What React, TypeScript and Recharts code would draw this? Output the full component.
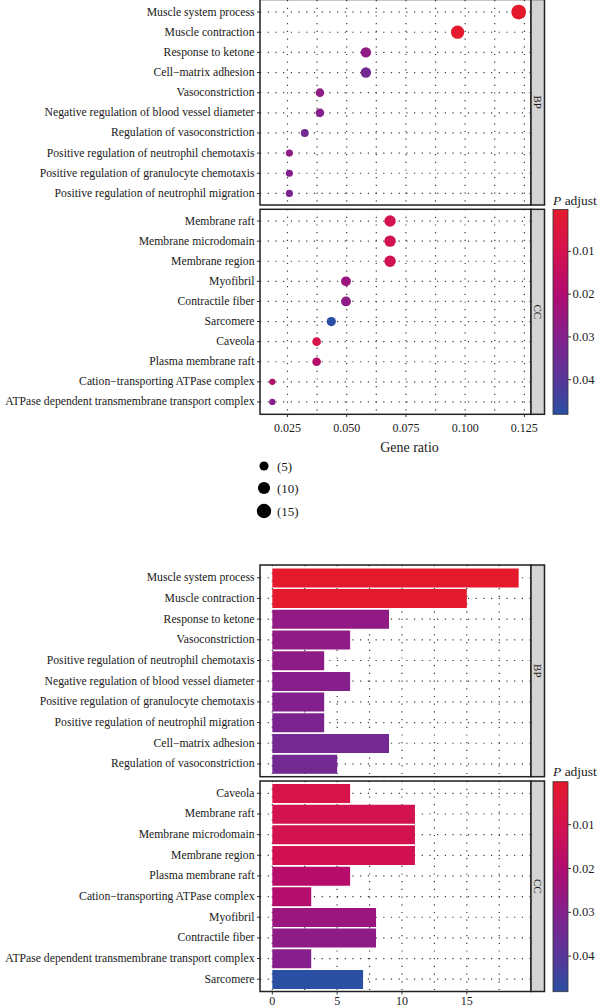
import React from 'react';
import {
  ScatterChart,
  Scatter,
  BarChart,
  Bar,
  Cell,
  XAxis,
  YAxis,
  CartesianGrid,
} from 'recharts';

// ---------------- DATA ----------------
// Bar chart order (by adjusted p value)
const bpTerms = [
  'Muscle system process',
  'Muscle contraction',
  'Response to ketone',
  'Vasoconstriction',
  'Positive regulation of neutrophil chemotaxis',
  'Negative regulation of blood vessel diameter',
  'Positive regulation of granulocyte chemotaxis',
  'Positive regulation of neutrophil migration',
  'Cell\u2212matrix adhesion',
  'Regulation of vasoconstriction',
];
const bpCounts = [19, 15, 9, 6, 4, 6, 4, 4, 9, 5];
const bpPadj = [0.0002, 0.0006, 0.027, 0.0275, 0.028, 0.0295, 0.0305, 0.032, 0.0335, 0.034];

const ccTerms = [
  'Caveola',
  'Membrane raft',
  'Membrane microdomain',
  'Membrane region',
  'Plasma membrane raft',
  'Cation\u2212transporting ATPase complex',
  'Myofibril',
  'Contractile fiber',
  'ATPase dependent transmembrane transport complex',
  'Sarcomere',
];
const ccCounts = [6, 11, 11, 11, 6, 3, 8, 8, 3, 7];
const ccPadj = [0.0085, 0.0105, 0.0105, 0.011, 0.0185, 0.019, 0.025, 0.028, 0.0295, 0.0481];

// Dot plot order (by gene ratio)
const bpDotTerms = [
  'Muscle system process',
  'Muscle contraction',
  'Response to ketone',
  'Cell\u2212matrix adhesion',
  'Vasoconstriction',
  'Negative regulation of blood vessel diameter',
  'Regulation of vasoconstriction',
  'Positive regulation of neutrophil chemotaxis',
  'Positive regulation of granulocyte chemotaxis',
  'Positive regulation of neutrophil migration',
];
const bpDotRatio = [0.1226, 0.0968, 0.0581, 0.0581, 0.0387, 0.0387, 0.0323, 0.0258, 0.0258, 0.0258];

const ccDotTerms = [
  'Membrane raft',
  'Membrane microdomain',
  'Membrane region',
  'Myofibril',
  'Contractile fiber',
  'Sarcomere',
  'Caveola',
  'Plasma membrane raft',
  'Cation\u2212transporting ATPase complex',
  'ATPase dependent transmembrane transport complex',
];
const ccDotRatio = [0.0683, 0.0683, 0.0683, 0.0497, 0.0497, 0.0435, 0.0373, 0.0373, 0.0186, 0.0186];

const ratioTicks = [0.025, 0.05, 0.075, 0.1, 0.125];
const ratioGrid = [0.025, 0.0375, 0.05, 0.0625, 0.075, 0.0875, 0.1, 0.1125, 0.125];
const countTicks = [0, 5, 10, 15];
const countGrid = [0, 2.5, 5, 7.5, 10, 12.5, 15, 17.5];
const padjTicks = [0.01, 0.02, 0.03, 0.04];
const sizeBreaks = [5, 10, 15];

// ---------------- SCALES ----------------
const allP = [...bpPadj, ...ccPadj];
const P_MIN = Math.min(...allP);
const P_MAX = Math.max(...allP);
const allCounts = [...bpCounts, ...ccCounts];
const C_MIN = Math.min(...allCounts);
const C_MAX = Math.max(...allCounts);

const colorStops: [number, string][] = [
  [0.0002, '#E41A2C'],
  [0.01, '#D5124E'],
  [0.02, '#B00C70'],
  [0.03, '#84208C'],
  [0.04, '#573699'],
  [0.0481, '#2B4FA3'],
];
const hex = (h: string) => [1, 3, 5].map((i) => parseInt(h.slice(i, i + 2), 16));
function pColor(p: number) {
  if (p <= colorStops[0][0]) return colorStops[0][1];
  for (let i = 1; i < colorStops.length; i++) {
    const [p1, c1] = colorStops[i];
    const [p0, c0] = colorStops[i - 1];
    if (p <= p1) {
      const t = (p - p0) / (p1 - p0);
      const a = hex(c0);
      const b = hex(c1);
      const m = a.map((v, k) => Math.round(v + (b[k] - v) * t));
      return `rgb(${m[0]},${m[1]},${m[2]})`;
    }
  }
  return colorStops[colorStops.length - 1][1];
}
function dotDiameter(c: number) {
  const s = 1 + (5 * (Math.sqrt(c) - Math.sqrt(C_MIN))) / (Math.sqrt(C_MAX) - Math.sqrt(C_MIN));
  return 4.6 + 1.7 * s;
}

function lookup(terms: string[], values: number[], t: string) {
  return values[terms.indexOf(t)];
}
const buildDots = (dotTerms: string[], ratios: number[], terms: string[], counts: number[], padj: number[]) =>
  dotTerms.map((t, i) => ({
    term: t,
    idx: i + 1,
    ratio: ratios[i],
    count: lookup(terms, counts, t),
    p: lookup(terms, padj, t),
  }));
const bpDots = buildDots(bpDotTerms, bpDotRatio, bpTerms, bpCounts, bpPadj);
const ccDots = buildDots(ccDotTerms, ccDotRatio, ccTerms, ccCounts, ccPadj);
const bpBars = bpTerms.map((t, i) => ({ term: t, count: bpCounts[i], p: bpPadj[i] }));
const ccBars = ccTerms.map((t, i) => ({ term: t, count: ccCounts[i], p: ccPadj[i] }));

// ---------------- LAYOUT ----------------
const FONT = '"Liberation Serif", "DejaVu Serif", "Times New Roman", serif';
const TEXT = '#1a1a1a';
const PANEL_L = 260;
const PANEL_R = 531;
const STRIP_R = 544.5;
const GRID_COLOR = '#3a3a3a';
const CHART_W = 600;

const dotBP = { top: -0.5, h: 205.5 };
const dotCC = { top: 209.3, h: 205 };
const barBP = { top: 565, h: 211.7, pad: 2.4 };
const barCC = { top: 781, h: 210.5, pad: 2.0 };

const xTick = { fontSize: 12, fill: TEXT, fontFamily: FONT };

// custom y tick: single-line label, right aligned
const makeYTick = (labelOf: (v: any) => string) => (props: any) => {
  const { x, y, payload } = props;
  return (
    <text
      x={x}
      y={y}
      textAnchor="end"
      dominantBaseline="central"
      fontSize={11.7}
      fill={TEXT}
      fontFamily={FONT}
    >
      {labelOf(payload.value)}
    </text>
  );
};

const DotShape = (props: any) => {
  const { cx, cy, payload } = props;
  if (cx == null || cy == null) return null;
  return <circle cx={cx} cy={cy} r={dotDiameter(payload.count) / 2} fill={pColor(payload.p)} />;
};

function DotPanel({ rows, top, h, showX }: { rows: any[]; top: number; h: number; showX: boolean }) {
  const axisH = showX ? 30 : 0;
  const tick = makeYTick((v) => rows[v - 1]?.term ?? '');
  return (
    <div style={{ position: 'absolute', left: 0, top }}>
      <ScatterChart
        width={CHART_W}
        height={h + axisH}
        margin={{ top: 0, right: CHART_W - PANEL_R, bottom: 0, left: 0 }}
      >
        <CartesianGrid
          stroke={GRID_COLOR}
          strokeWidth={1.2}
          strokeDasharray="1.2 6.5"
          verticalValues={ratioGrid}
          horizontalValues={rows.map((r) => r.idx)}
        />
        <XAxis
          type="number"
          dataKey="ratio"
          domain={[0.0134, 0.1278]}
          allowDataOverflow
          ticks={ratioTicks}
          interval={0}
          hide={!showX}
          height={axisH}
          tickFormatter={(v: number) => v.toFixed(3)}
          tick={xTick}
          tickSize={3}
          tickMargin={6}
          axisLine={false}
          tickLine={{ stroke: '#333' }}
        />
        <YAxis
          type="number"
          dataKey="idx"
          domain={[0.4, 10.6]}
          allowDataOverflow
          reversed
          ticks={rows.map((r) => r.idx)}
          interval={0}
          width={PANEL_L}
          tick={tick}
          tickSize={3}
          tickMargin={2.5}
          axisLine={false}
          tickLine={{ stroke: '#333' }}
        />
        <Scatter data={rows} isAnimationActive={false} shape={DotShape} />
      </ScatterChart>
    </div>
  );
}

function BarPanel({ rows, top, h, pad, showX }: { rows: any[]; top: number; h: number; pad: number; showX: boolean }) {
  const axisH = showX ? 22 : 0;
  const tick = makeYTick((v) => String(v));
  return (
    <div style={{ position: 'absolute', left: 0, top }}>
      <BarChart
        layout="vertical"
        width={CHART_W}
        height={h + axisH}
        data={rows}
        margin={{ top: 0, right: CHART_W - PANEL_R, bottom: 0, left: 0 }}
        barCategoryGap="5%"
      >
        <CartesianGrid stroke={GRID_COLOR} strokeWidth={1.2} strokeDasharray="1.2 6.5" verticalValues={countGrid} />
        <XAxis
          type="number"
          domain={[-0.95, 19.95]}
          allowDataOverflow
          ticks={countTicks}
          interval={0}
          hide={!showX}
          height={axisH}
          tick={xTick}
          tickSize={3}
          tickMargin={1.5}
          axisLine={false}
          tickLine={{ stroke: '#333' }}
        />
        <YAxis
          type="category"
          dataKey="term"
          width={PANEL_L}
          interval={0}
          padding={{ top: pad, bottom: pad }}
          tick={tick}
          tickSize={3}
          tickMargin={2.5}
          axisLine={false}
          tickLine={{ stroke: '#333' }}
        />
        <Bar dataKey="count" isAnimationActive={false}>
          {rows.map((r, i) => (
            <Cell key={i} fill={pColor(r.p)} />
          ))}
        </Bar>
      </BarChart>
    </div>
  );
}

function PanelFrame({ top, h, label }: { top: number; h: number; label: string }) {
  return (
    <g>
      <rect x={PANEL_L} y={top} width={PANEL_R - PANEL_L} height={h} fill="none" stroke="#222" strokeWidth={1.5} />
      <rect x={PANEL_R} y={top} width={STRIP_R - PANEL_R} height={h} fill="#D4D4D4" stroke="#222" strokeWidth={1.5} />
      <text
        x={(PANEL_R + STRIP_R) / 2}
        y={top + h / 2}
        transform={`rotate(90 ${(PANEL_R + STRIP_R) / 2} ${top + h / 2})`}
        textAnchor="middle"
        dominantBaseline="central"
        fontSize={11}
        fill={TEXT}
        fontFamily={FONT}
      >
        {label}
      </text>
    </g>
  );
}

function ColorBar({ y0, y1, titleY, id }: { y0: number; y1: number; titleY: number; id: string }) {
  const x0 = 553;
  const x1 = 568;
  const py = (p: number) => y0 + ((p - P_MIN) / (P_MAX - P_MIN)) * (y1 - y0);
  return (
    <g>
      <defs>
        <linearGradient id={id} x1="0" y1="0" x2="0" y2="1">
          {colorStops.map(([p, c], i) => (
            <stop key={i} offset={(p - P_MIN) / (P_MAX - P_MIN)} stopColor={c} />
          ))}
        </linearGradient>
      </defs>
      <text x={x0} y={titleY} fontSize={13.5} fill={TEXT} fontFamily={FONT}>
        <tspan fontStyle="italic">P</tspan> adjust
      </text>
      <rect x={x0} y={y0} width={x1 - x0} height={y1 - y0} fill={`url(#${id})`} stroke="#333" strokeWidth={0.8} />
      {padjTicks.map((p) => (
        <g key={p}>
          <line x1={x1} x2={x1 + 3} y1={py(p)} y2={py(p)} stroke="#333" strokeWidth={1} />
          <text x={x1 + 4.5} y={py(p)} dominantBaseline="central" fontSize={12.5} fill={TEXT} fontFamily={FONT}>
            {p.toFixed(2)}
          </text>
        </g>
      ))}
    </g>
  );
}

export default function App() {
  const sizeY = [466, 488, 511];
  return (
    <div
      style={{
        position: 'absolute',
        left: 0,
        top: 0,
        width: 600,
        height: 1007,
        overflow: 'hidden',
        background: '#fff',
        fontFamily: FONT,
      }}
    >
      <DotPanel rows={bpDots} top={dotBP.top} h={dotBP.h} showX={false} />
      <DotPanel rows={ccDots} top={dotCC.top} h={dotCC.h} showX={true} />
      <BarPanel rows={bpBars} top={barBP.top} h={barBP.h} pad={barBP.pad} showX={false} />
      <BarPanel rows={ccBars} top={barCC.top} h={barCC.h} pad={barCC.pad} showX={true} />
      <svg
        width={600}
        height={1007}
        style={{ position: 'absolute', left: 0, top: 0, pointerEvents: 'none' }}
      >
        <PanelFrame top={dotBP.top} h={dotBP.h} label="BP" />
        <PanelFrame top={dotCC.top} h={dotCC.h} label="CC" />
        <PanelFrame top={barBP.top} h={barBP.h} label="BP" />
        <PanelFrame top={barCC.top} h={barCC.h} label="CC" />
        <text x={409.5} y={447.5} textAnchor="middle" dominantBaseline="central" fontSize={14} fill={TEXT} fontFamily={FONT}>
          Gene ratio
        </text>
        {sizeBreaks.map((s, i) => (
          <g key={s}>
            <circle cx={264} cy={sizeY[i]} r={dotDiameter(s) / 2 + 0.6} fill="#000" />
            <text x={277} y={sizeY[i]} dominantBaseline="central" fontSize={13} fill={TEXT} fontFamily={FONT}>
              ({s})
            </text>
          </g>
        ))}
        <ColorBar y0={209.5} y1={414.3} titleY={205} id="cb1" />
        <ColorBar y0={781.7} y1={991.7} titleY={776} id="cb2" />
      </svg>
    </div>
  );
}
